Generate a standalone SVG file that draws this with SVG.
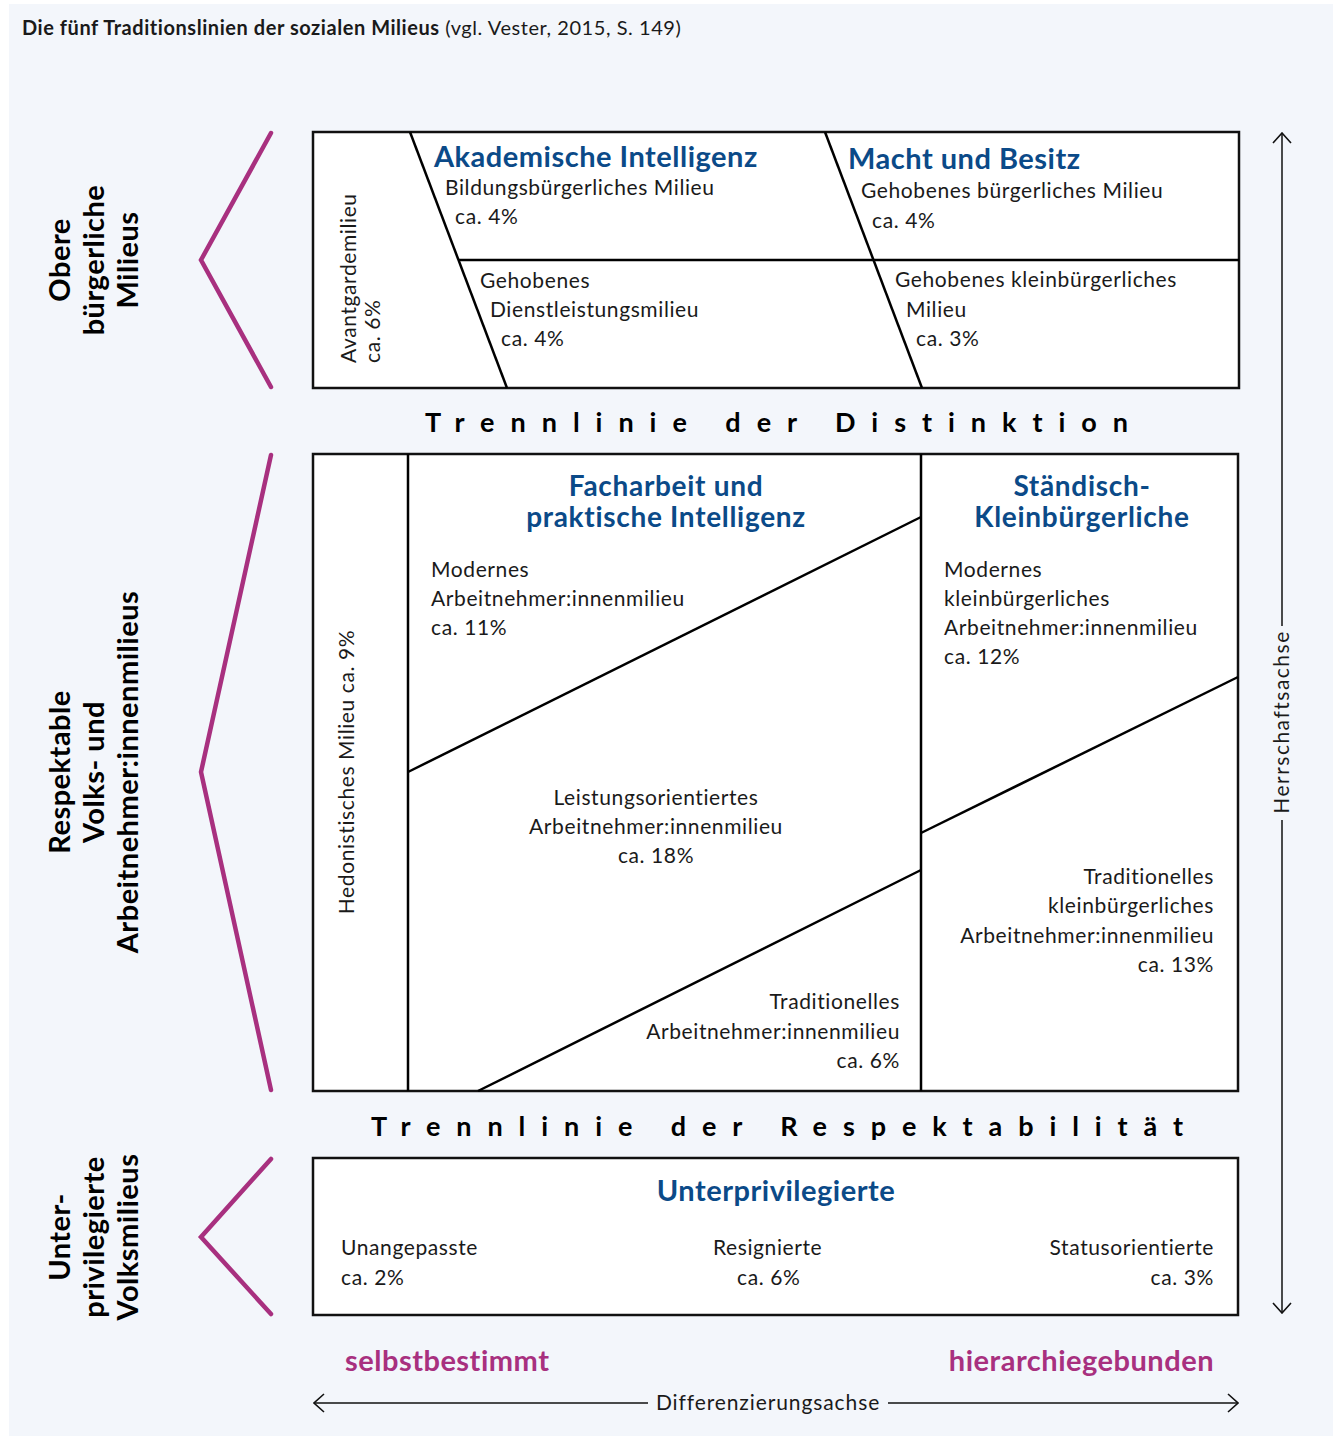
<svg xmlns="http://www.w3.org/2000/svg" width="1333" height="1436" viewBox="0 0 1333 1436">
<style>
text{font-family:Lato,"Open Sans","Liberation Sans",sans-serif;fill:#1a1a1a}
.t{font-size:21px;letter-spacing:0.6px}
.h{font-size:29px;font-weight:bold;fill:#0b4a88;letter-spacing:0.5px}
.h2{font-size:28px;font-weight:bold;fill:#0b4a88;letter-spacing:0.7px}
.side{font-size:29px;font-weight:bold;fill:#000;letter-spacing:0.5px}
.sep{font-size:27px;font-weight:bold;fill:#000;font-variant-ligatures:none}
.mag{font-size:29px;font-weight:bold;fill:#a8307f;letter-spacing:0.5px}
.box{fill:#fff;stroke:#111;stroke-width:2.5}
.ln{stroke:#000;stroke-width:2.5;fill:none}
.chev{stroke:#a8307f;stroke-width:4.5;fill:none;stroke-linecap:round;stroke-linejoin:miter}
.ax{stroke:#111;stroke-width:1.5;fill:none}
.m{text-anchor:middle}
.e{text-anchor:end}
</style>
<defs>
<marker id="arr" viewBox="0 0 12 20" refX="11" refY="10" markerWidth="12" markerHeight="20" markerUnits="userSpaceOnUse" orient="auto">
<path d="M1,1 L11,10 L1,19" fill="none" stroke="#111" stroke-width="1.6"/>
</marker>
</defs>
<rect x="0" y="0" width="1333" height="1436" fill="#fff"/>
<rect x="9" y="4" width="1324" height="1432" fill="#f3f6fb"/>
<g id="title">
<text x="22" y="35" style="font-size:20px;letter-spacing:0.55px"><tspan font-weight="bold">Die fünf Traditionslinien der sozialen Milieus</tspan> (vgl. Vester, 2015, S. 149)</text>
</g>

<g id="connectors">
<polyline class="chev" points="271,133 201,260 271,387"/>
<polyline class="chev" points="271,455 201,772 271,1090"/>
<polyline class="chev" points="271,1159 201,1237 271,1314"/>
<line class="ax" x1="1282" y1="626" x2="1282" y2="133" marker-end="url(#arr)"/>
<line class="ax" x1="1282" y1="820" x2="1282" y2="1313" marker-end="url(#arr)"/>
<line class="ax" x1="648" y1="1403" x2="314" y2="1403" marker-end="url(#arr)"/>
<line class="ax" x1="888" y1="1403" x2="1238" y2="1403" marker-end="url(#arr)"/>
</g>

<g id="labels-left">
<text class="side m" transform="translate(0,260) rotate(-90)"><tspan x="0" y="70">Obere</tspan><tspan x="0" y="104">bürgerliche</tspan><tspan x="0" y="138">Milieus</tspan></text>
<text class="side m" transform="translate(0,772) rotate(-90)"><tspan x="0" y="70">Respektable</tspan><tspan x="0" y="104">Volks- und</tspan><tspan x="0" y="138">Arbeitnehmer:innenmilieus</tspan></text>
<text class="side m" transform="translate(0,1237) rotate(-90)"><tspan x="0" y="70">Unter-</tspan><tspan x="0" y="104">privilegierte</tspan><tspan x="0" y="138">Volksmilieus</tspan></text>
</g>

<g id="block-oben">
<rect class="box" x="313" y="132" width="926" height="256"/>
<line class="ln" x1="410" y1="132" x2="507" y2="388"/>
<line class="ln" x1="825" y1="132" x2="922" y2="388"/>
<line class="ln" x1="458" y1="260" x2="1239" y2="260"/>
<text class="t" transform="translate(0,363) rotate(-90)"><tspan x="0" y="356">Avantgardemilieu</tspan><tspan x="0" y="380">ca. 6%</tspan></text>
<text class="h" x="434" y="167">Akademische Intelligenz</text>
<text class="t" x="445" y="195">Bildungsbürgerliches Milieu</text>
<text class="t" x="455" y="224">ca. 4%</text>
<text class="t" x="480" y="288">Gehobenes</text>
<text class="t" x="490" y="317">Dienstleistungsmilieu</text>
<text class="t" x="501" y="346">ca. 4%</text>
<text class="h" x="848" y="169">Macht und Besitz</text>
<text class="t" x="861" y="198">Gehobenes bürgerliches Milieu</text>
<text class="t" x="872" y="228">ca. 4%</text>
<text class="t" x="895" y="287">Gehobenes kleinbürgerliches</text>
<text class="t" x="906" y="317">Milieu</text>
<text class="t" x="916" y="346">ca. 3%</text>
</g>

<g id="trenn1">
<text class="sep" x="425" y="432" textLength="703" lengthAdjust="spacing">Trennlinie der Distinktion</text>
</g>

<g id="block-mitte">
<rect class="box" x="313" y="454" width="925" height="637"/>
<line class="ln" x1="408" y1="454" x2="408" y2="1091"/>
<line class="ln" x1="921" y1="454" x2="921" y2="1091"/>
<line class="ln" x1="408" y1="772" x2="921" y2="517"/>
<line class="ln" x1="478" y1="1091" x2="921" y2="870"/>
<line class="ln" x1="921" y1="833" x2="1238" y2="677"/>
<text class="t m" transform="translate(0,772) rotate(-90)" x="0" y="354">Hedonistisches Milieu ca. 9%</text>
<text class="h2 m" x="666" y="496">Facharbeit und</text>
<text class="h2 m" x="666" y="527">praktische Intelligenz</text>
<text class="t" x="431" y="577">Modernes</text>
<text class="t" x="431" y="606">Arbeitnehmer:innenmilieu</text>
<text class="t" x="431" y="635">ca. 11%</text>
<text class="t m" x="656" y="805">Leistungsorientiertes</text>
<text class="t m" x="656" y="834">Arbeitnehmer:innenmilieu</text>
<text class="t m" x="656" y="863">ca. 18%</text>
<text class="t e" x="900" y="1009">Traditionelles</text>
<text class="t e" x="900" y="1039">Arbeitnehmer:innenmilieu</text>
<text class="t e" x="900" y="1068">ca. 6%</text>
<text class="h2 m" x="1082" y="496">Ständisch-</text>
<text class="h2 m" x="1082" y="527">Kleinbürgerliche</text>
<text class="t" x="944" y="577">Modernes</text>
<text class="t" x="944" y="606">kleinbürgerliches</text>
<text class="t" x="944" y="635">Arbeitnehmer:innenmilieu</text>
<text class="t" x="944" y="664">ca. 12%</text>
<text class="t e" x="1214" y="884">Traditionelles</text>
<text class="t e" x="1214" y="913">kleinbürgerliches</text>
<text class="t e" x="1214" y="943">Arbeitnehmer:innenmilieu</text>
<text class="t e" x="1214" y="972">ca. 13%</text>
</g>

<g id="trenn2">
<text class="sep" x="371" y="1136" textLength="812" lengthAdjust="spacing">Trennlinie der Respektabilität</text>
</g>

<g id="block-unten">
<rect class="box" x="313" y="1158" width="925" height="157"/>
<text class="h m" x="776" y="1201">Unterprivilegierte</text>
<text class="t" x="341" y="1255">Unangepasste</text>
<text class="t" x="341" y="1285">ca. 2%</text>
<text class="t" x="713" y="1255">Resignierte</text>
<text class="t" x="737" y="1285">ca. 6%</text>
<text class="t e" x="1214" y="1255">Statusorientierte</text>
<text class="t e" x="1214" y="1285">ca. 3%</text>
</g>

<g id="achsen">
<text class="mag" x="345" y="1371">selbstbestimmt</text>
<text class="mag e" x="1214" y="1371">hierarchiegebunden</text>
<text class="t m" x="768" y="1410" style="letter-spacing:0.9px">Differenzierungsachse</text>
<text class="t m" transform="translate(0,722) rotate(-90)" x="0" y="1289" style="letter-spacing:1.5px">Herrschaftsachse</text>
</g>
</svg>
